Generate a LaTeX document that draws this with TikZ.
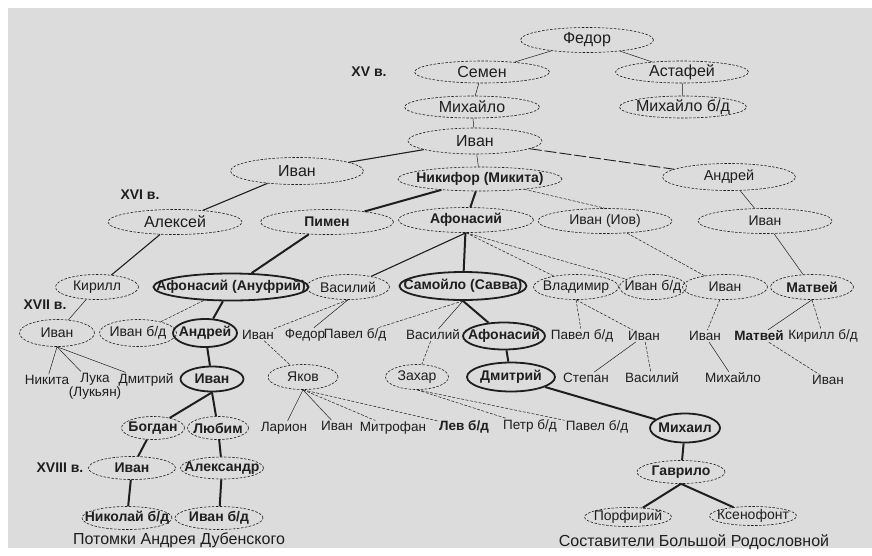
\documentclass[tikz,border=0pt]{standalone}
\usepackage{fontspec}
\setmainfont{Liberation Sans}
\usetikzlibrary{shapes.geometric}
\definecolor{fond}{HTML}{DCDCDC}
\definecolor{encre}{HTML}{1E1E1E}
\newcommand{\lbl}{\fontsize{14}{15}\selectfont}
\newcommand{\lblbig}{\fontsize{16}{17}\selectfont}
\newcommand{\lblsm}{\fontsize{13.5}{14.5}\selectfont}

\begin{document}
\begin{tikzpicture}[x=1pt,y=-1pt,
    every node/.style={text=encre,font=\lbl},
    tight/.style={execute at begin node={\hbox to 0pt\bgroup\hss},execute at end node={\hss\egroup}},
    pers/.style={ellipse,tight,draw=encre,dash pattern=on 2.5pt off 1.5pt,line width=0.6pt,inner sep=0pt,minimum height=25},
    chief/.style={ellipse,tight,draw=encre,line width=1.8pt,inner sep=0pt,minimum height=27,font=\lbl\bfseries},
    strong/.style={font=\lbl\bfseries},
    big/.style={font=\lblbig},
    txt/.style={inner sep=1pt,font=\lblsm},
    lnk/.style={draw=encre,line width=0.5pt},
    mlnk/.style={draw=encre,line width=1.1pt},
    blnk/.style={draw=encre,line width=2pt},
    dlnk/.style={draw=encre,line width=0.5pt,dash pattern=on 3pt off 1.5pt}]
        \useasboundingbox (0,0) rectangle (872,555);
        \fill[white] (0,0) rectangle (872,555);
        \fill[fond] (8,8) rectangle (872,548);
        % XV
        \node[strong] at (369,72) (C15) {XV в.};
        \node[pers,big,minimum width=133] at (587,40) (FED) {Федор};
        \node[pers,big,minimum width=135,minimum height=22] at (482,72) (SEM) {Семен};
        \node[pers,big,minimum width=133,minimum height=22] at (682,72) (AST) {Астафей};
        \node[pers,big,minimum width=135,minimum height=22] at (472,107) (MIH) {Михайло};
        \node[pers,big,minimum width=127,minimum height=22] at (683,107) (MIB) {Михайло б/д};
        \node[pers,big,minimum width=134,minimum height=26] at (475,141) (IVA) {Иван};
        % XVI
        \node[strong] at (140,195) (C16) {XVI в.};
        \node[pers,big,minimum width=133,minimum height=27] at (297,171) (IVL) {Иван};
        \node[pers,strong,minimum width=164,minimum height=24] at (480,179) (NIK) {Никифор (Микита)};
        \node[pers,minimum width=133,minimum height=27,font=\fontsize{14.5}{15}\selectfont] at (729,177) (AND) {Андрей};
        \node[pers,big,minimum width=134] at (175,222) (ALE) {Алексей};
        \node[pers,strong,minimum width=133] at (327,222) (PIM) {Пимен};
        \node[pers,strong,minimum width=135] at (466,220) (AFO) {Афонасий};
        \node[pers,minimum width=134] at (605,221) (IOV) {Иван (Иов)};
        \node[pers,minimum width=134] at (765,221) (IVR) {Иван};
        % XVII
        \node[strong] at (45,305) (C17) {XVII в.};
        \node[pers,minimum width=83] at (97,287) (KIR) {Кирилл};
        \node[chief,minimum width=155] at (231,287) (ANU) {Афонасий (Ануфрий)};
        \node[pers,minimum width=83] at (348,287) (VAS) {Василий};
        \node[chief,minimum width=127,minimum height=28] at (463,286) (SAM) {Самойло (Савва)};
        \node[pers,minimum width=85] at (576,287) (VLA) {Владимир};
        \node[pers,minimum width=67] at (653,287) (IBD) {Иван б/д};
        \node[pers,minimum width=85] at (725,287) (IVM) {Иван};
        \node[pers,strong,minimum width=83] at (812,287) (MAT) {Матвей};
        \node[pers,minimum width=75,minimum height=27] at (57,333) (IV17) {Иван};
        \node[pers,minimum width=77,minimum height=27] at (138,333) (IBD2) {Иван б/д};
        \node[chief,minimum width=64,minimum height=28] at (205,333) (ANR) {Андрей};
        \node[txt] at (258,335) (IVP1) {Иван};
        \node[txt] at (305,335) (FEP) {Федор};
        \node[txt] at (355,335) (PAV1) {Павел б/д};
        \node[txt] at (433,335) (VAP) {Василий};
        \node[chief,minimum width=82] at (504,336) (AFT) {Афонасий};
        \node[txt] at (582,336) (PAV2) {Павел б/д};
        \node[txt] at (644,336) (IVP2) {Иван};
        \node[txt] at (705,336) (IVP3) {Иван};
        \node[txt,font=\lblsm\bfseries] at (759,336) (MAP) {Матвей};
        \node[txt] at (823,336) (KBD) {Кирилл б/д};
        \node[txt] at (47,380) (NKT) {Никита};
        \node[txt,align=center] at (95,386) (LUK) {Лука\\(Лукьян)};
        \node[txt] at (146,380) (DMI) {Дмитрий};
        \node[chief,minimum width=63,minimum height=25] at (212,379) (IVT) {Иван};
        \node[pers,minimum width=70] at (303,377) (YAK) {Яков};
        \node[pers,minimum width=63] at (417,377) (ZAH) {Захар};
        \node[chief,minimum width=88,minimum height=29] at (511,377) (DMT) {Дмитрий};
        \node[txt] at (586,378) (STE) {Степан};
        \node[txt] at (652,378) (VAP2) {Василий};
        \node[txt] at (733,378) (MIP) {Михайло};
        \node[txt] at (828,380) (IVP4) {Иван};
        \node[pers,strong,minimum width=63,minimum height=23] at (153,428) (BOG) {Богдан};
        \node[pers,strong,minimum width=61,minimum height=23] at (218,428) (LUB) {Любим};
        \node[txt] at (284,428) (LAR) {Ларион};
        \node[txt] at (337,426) (IVP5) {Иван};
        \node[txt] at (393,428) (MIT) {Митрофан};
        \node[txt,font=\lblsm\bfseries] at (464,427) (LEV) {Лев б/д};
        \node[txt] at (530,426) (PET) {Петр б/д};
        \node[txt] at (597,427) (PAV3) {Павел б/д};
        \node[chief,minimum width=70,minimum height=29] at (685,428) (MIL) {Михаил};
        % XVIII
        \node[strong] at (60,468) (C18) {XVIII в.};
        \node[pers,strong,minimum width=87,minimum height=23] at (132,468) (IV18) {Иван};
        \node[pers,strong,minimum width=83,minimum height=22] at (222,468) (ALX) {Александр};
        \node[pers,strong,minimum width=88,minimum height=23] at (681,472) (GAV) {Гаврило};
        \node[pers,strong,minimum width=90,minimum height=23] at (127,518) (NIKO) {Николай б/д};
        \node[pers,strong,minimum width=88,minimum height=23] at (219,518) (IBD3) {Иван б/д};
        \node[pers,minimum width=87,minimum height=19] at (628,517) (POR) {Порфирий};
        \node[pers,minimum width=87,minimum height=19] at (753,516) (KSE) {Ксенофонт};
        \node[big] at (179,540) (CAP1) {Потомки Андрея Дубенского};
        \node[big] at (694,542) (CAP2) {Составители Большой Родословной};
        % links
        \draw[lnk] (FED) -- (SEM);
        \draw[lnk] (FED) -- (AST);
        \draw[lnk] (SEM) -- (MIH);
        \draw[lnk] (AST) -- (MIB);
        \draw[lnk] (MIH) -- (IVA);
        \draw[mlnk] (IVA) -- (IVL);
        \draw[lnk] (IVA) -- (NIK);
        \draw[lnk,line width=0.9pt,dash pattern=on 12pt off 3pt] (IVA) -- (AND);
        \draw[mlnk] (IVL) -- (ALE);
        \draw[blnk] (NIK) -- (PIM);
        \draw[blnk] (NIK) -- (AFO);
        \draw[dlnk] (NIK) -- (IOV.north);
        \draw[lnk] (AND) -- (IVR);
        \draw[mlnk] (ALE) -- (KIR);
        \draw[blnk] (PIM) -- (ANU);
        \draw[mlnk] (AFO.south) -- (VAS);
        \draw[blnk] (AFO) -- (SAM);
        \draw[dlnk] (AFO.south) -- (VLA);
        \draw[dlnk] (AFO.south) -- (IBD);
        \draw[dlnk] (IOV) -- (IVM);
        \draw[lnk] (IVR) -- (MAT);
        \draw[lnk] (KIR) -- (IV17);
        \draw[dlnk] (ANU) -- (IBD2);
        \draw[blnk] (ANU) -- (ANR);
        \draw[dlnk] (VAS.south) -- (IVP1);
        \draw[lnk] (VAS.south) -- (FEP);
        \draw[dlnk] (SAM.south) -- (PAV1);
        \draw[lnk] (SAM.south) -- (VAP);
        \draw[blnk] (SAM.south) -- (AFT);
        \draw[dlnk] (VLA.south) -- (PAV2);
        \draw[dlnk] (VLA.south) -- (IVP2);
        \draw[dlnk] (IVM) -- (IVP3);
        \draw[lnk] (MAT.south) -- (MAP);
        \draw[dlnk] (MAT.south) -- (KBD);
        \draw[lnk] (IV17.south) -- (NKT);
        \draw[lnk] (IV17.south) -- (LUK);
        \draw[lnk] (IV17.south) -- (DMI);
        \draw[blnk] (ANR) -- (IVT);
        \draw[dlnk] (IVP1) -- (YAK);
        \draw[blnk] (IVT.south) -- (BOG);
        \draw[blnk] (IVT.south) -- (LUB);
        \draw[lnk] (YAK.south) -- (LAR);
        \draw[lnk] (YAK.south) -- (IVP5);
        \draw[dlnk] (YAK.south) -- (MIT);
        \draw[dlnk] (YAK.south) -- (LEV);
        \draw[dlnk] (ZAH.south) -- (PET);
        \draw[dlnk] (ZAH.south) -- (PAV3);
        \draw[dlnk] (VAP) -- (ZAH);
        \draw[blnk] (AFT) -- (DMT);
        \draw[lnk] (IVP2) -- (STE);
        \draw[dlnk] (IVP2) -- (VAP2);
        \draw[lnk] (IVP3) -- (MIP);
        \draw[dlnk] (MAP) -- (IVP4);
        \draw[blnk] (DMT) -- (MIL);
        \draw[blnk] (BOG) -- (IV18);
        \draw[blnk] (LUB) -- (ALX);
        \draw[blnk] (IV18) -- (NIKO);
        \draw[blnk] (ALX) -- (IBD3);
        \draw[blnk] (MIL) -- (GAV);
        \draw[blnk] (GAV.south) -- (POR);
        \draw[blnk] (GAV.south) -- (KSE);
    \end{tikzpicture}
\end{document}
